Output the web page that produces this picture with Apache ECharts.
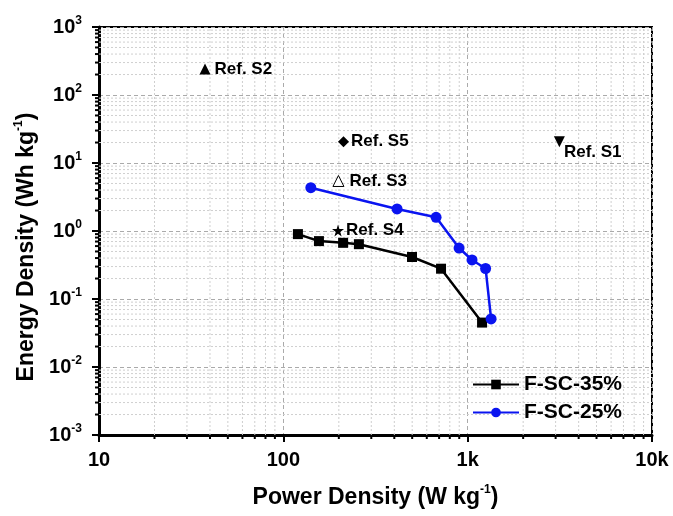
<!DOCTYPE html>
<html>
<head>
<meta charset="utf-8">
<script src="https://cdn.jsdelivr.net/npm/echarts@6/dist/echarts.min.js"></script>
<style>
  html, body { margin: 0; padding: 0; background: #fff; }
  #chart { width: 673px; height: 516px; }
</style>
</head>
<body>
<div id="chart"></div>
<script>
// F-SC-35% (black squares)
var sc35Power = [120, 156, 211, 257, 499, 717, 1197];
var sc35Energy = [0.90, 0.71, 0.67, 0.64, 0.415, 0.279, 0.045];
// F-SC-25% (blue circles)
var sc25Power = [141, 414, 674, 898, 1056, 1251, 1340];
var sc25Energy = [4.33, 2.11, 1.59, 0.562, 0.375, 0.281, 0.051];
// literature points
var refNames = ['Ref. S1', 'Ref. S2', 'Ref. S3', 'Ref. S4', 'Ref. S5'];
var refPower = [3145, 37.6, 199, 198, 212];
var refEnergy = [20.6, 241, 5.44, 1.02, 20.6];

var xMin = 10, xMax = 10000;
var yMin = 0.001, yMax = 1000;
var FONT = '"Liberation Sans", Arial, sans-serif';
var STAR = 'path://M50,0 L61,35 L98,35 L68,57 L79,91 L50,70 L21,91 L32,57 L2,35 L39,35 Z';

// minor positions 2..9 in each decade (grid only)
function minors(lo, hi) {
  var out = [];
  for (var d = lo; d < hi; d *= 10) {
    for (var k = 2; k <= 9; k++) out.push(+(d * k).toPrecision(3));
  }
  return out;
}

function minorGrid(dim) {
  var vals = dim === 'x' ? minors(xMin, xMax) : minors(yMin, yMax);
  return {
    type: 'custom',
    silent: true,
    clip: false,
    z: 1,
    data: vals.map(function (v) { return dim === 'x' ? [v, yMin] : [xMin, v]; }),
    renderItem: function (params, api) {
      var a, b, t;
      if (dim === 'x') {
        a = api.coord([api.value(0), yMin]);
        b = api.coord([api.value(0), yMax]);
        t = { x1: a[0], y1: a[1], x2: a[0], y2: a[1] + 4 };
      } else {
        a = api.coord([xMin, api.value(1)]);
        b = api.coord([xMax, api.value(1)]);
        t = { x1: a[0] - 4, y1: a[1], x2: a[0], y2: a[1] };
      }
      return {
        type: 'group',
        children: [
          { type: 'line', shape: { x1: a[0], y1: a[1], x2: b[0], y2: b[1] },
            style: { stroke: '#cfcfcf', lineWidth: 1, lineDash: [2, 2] } },
          { type: 'line', shape: t, style: { stroke: '#000', lineWidth: 2 } }
        ]
      };
    }
  };
}

function pairs(xs, ys) {
  return xs.map(function (x, i) { return [x, ys[i]]; });
}

var refStyles = [
  { symbol: 'triangle', rotate: 180, size: 11, item: { color: '#000' }, label: { position: [10, 8] } },
  { symbol: 'triangle', rotate: 0, size: 11, item: { color: '#000' }, label: { position: 'right', distance: 4 } },
  { symbol: 'triangle', rotate: 0, size: 11, item: { color: '#fff', borderColor: '#000', borderWidth: 1 }, label: { position: 'right', distance: 5 } },
  { symbol: STAR, rotate: 0, size: 12, item: { color: '#000' }, label: { position: 'right', distance: 2 } },
  { symbol: 'diamond', rotate: 0, size: 11, item: { color: '#000' }, label: { position: 'right', distance: 2 } }
];

var refSeries = refNames.map(function (name, i) {
  var s = refStyles[i];
  return {
    name: name,
    type: 'scatter',
    z: 5,
    symbol: s.symbol,
    symbolRotate: s.rotate,
    symbolSize: s.size,
    itemStyle: Object.assign({ opacity: 1 }, s.item),
    data: [[refPower[i], refEnergy[i]]],
    label: Object.assign({
      show: true,
      formatter: name,
      color: '#000',
      opacity: 1,
      fontFamily: FONT,
      fontWeight: 'bold',
      fontSize: 17
    }, s.label)
  };
});

var titleRich = {
  t: { fontFamily: FONT, fontWeight: 'bold', fontSize: 23, color: '#000', lineHeight: 27 },
  s: { fontFamily: FONT, fontWeight: 'bold', fontSize: 12, color: '#000', verticalAlign: 'top', lineHeight: 27 }
};

var chart = echarts.init(document.getElementById('chart'));
chart.setOption({
  animation: false,
  grid: {
    left: 99, right: 21, top: 27, bottom: 81,
    show: true, borderColor: '#000', borderWidth: 2
  },
  legend: {
    data: ['F-SC-35%', 'F-SC-25%'],
    orient: 'vertical',
    left: 467,
    top: 369,
    itemWidth: 46,
    itemHeight: 12,
    itemGap: 7,
    textStyle: { fontFamily: FONT, fontWeight: 'bold', fontSize: 21, color: '#000' }
  },
  xAxis: {
    type: 'log',
    min: xMin,
    max: xMax,
    logBase: 10,
    name: '{t|Power Density (W kg}{s|-1}{t|)}',
    nameLocation: 'middle',
    nameGap: 49,
    nameTextStyle: { rich: titleRich },
    axisLine: { lineStyle: { color: '#000', width: 3 } },
    axisTick: { length: 7, lineStyle: { color: '#000', width: 2 } },
    axisLabel: {
      margin: 15,
      color: '#000',
      fontFamily: FONT,
      fontWeight: 'bold',
      fontSize: 20,
      formatter: function (v) {
        v = Math.round(v);
        return v >= 1000 ? (v / 1000) + 'k' : String(v);
      }
    },
    splitLine: { show: true, lineStyle: { color: '#aaa', type: [4, 3], width: 1 } }
  },
  yAxis: {
    type: 'log',
    min: yMin,
    max: yMax,
    logBase: 10,
    name: '{t|Energy Density (Wh kg}{s|-1}{t|)}',
    nameLocation: 'middle',
    nameGap: 54,
    nameTextStyle: { rich: titleRich, padding: [0, 32, 0, 0] },
    axisLine: { lineStyle: { color: '#000', width: 3 } },
    axisTick: { length: 7, lineStyle: { color: '#000', width: 2 } },
    axisLabel: {
      margin: 17,
      formatter: function (v) {
        return '{b|10}{s|' + Math.round(Math.log10(v)) + '}';
      },
      rich: {
        b: { fontFamily: FONT, fontWeight: 'bold', fontSize: 20, color: '#000', lineHeight: 24 },
        s: { fontFamily: FONT, fontWeight: 'bold', fontSize: 12, color: '#000', verticalAlign: 'top', lineHeight: 24 }
      }
    },
    splitLine: { show: true, lineStyle: { color: '#aaa', type: [4, 3], width: 1 } }
  },
  series: [
    minorGrid('x'),
    minorGrid('y'),
    {
      name: 'F-SC-35%',
      type: 'line',
      z: 4,
      symbol: 'rect',
      symbolSize: 10,
      color: '#000',
      lineStyle: { color: '#000', width: 2.5 },
      itemStyle: { color: '#000' },
      data: pairs(sc35Power, sc35Energy)
    },
    {
      name: 'F-SC-25%',
      type: 'line',
      z: 4,
      symbol: 'circle',
      symbolSize: 11,
      color: '#0a14f0',
      lineStyle: { color: '#0a14f0', width: 2.5 },
      itemStyle: { color: '#0a14f0' },
      data: pairs(sc25Power, sc25Energy)
    }
  ].concat(refSeries)
});
</script>
</body>
</html>
